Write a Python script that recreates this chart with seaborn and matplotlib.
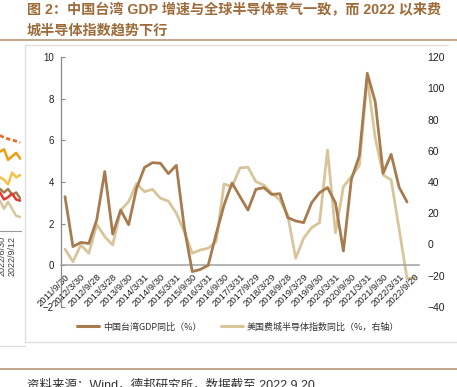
import numpy as np
import pandas as pd
import matplotlib
matplotlib.use("Agg")
import matplotlib.pyplot as plt
import matplotlib.lines as mlines
import seaborn as sns

# ============ DATA ============
dates = ["2011/9/30", "2011/12/30", "2012/3/30", "2012/6/29", "2012/9/28", "2012/12/28",
         "2013/3/28", "2013/6/28", "2013/9/30", "2013/12/31", "2014/3/31", "2014/6/30",
         "2014/9/30", "2014/12/31", "2015/3/31", "2015/6/30", "2015/9/30", "2015/12/31",
         "2016/3/31", "2016/6/30", "2016/9/30", "2016/12/30", "2017/3/31", "2017/6/30",
         "2017/9/29", "2017/12/29", "2018/3/29", "2018/6/29", "2018/9/28", "2018/12/28",
         "2019/3/29", "2019/6/28", "2019/9/30", "2019/12/31", "2020/3/31", "2020/6/30",
         "2020/9/30", "2020/12/31", "2021/3/31", "2021/6/30", "2021/9/30", "2021/12/30",
         "2022/3/31", "2022/6/30", "2022/9/20"]

# Taiwan GDP yoy (%), left axis -- ends 2022/6/30
gdp = [3.3, 0.9, 1.1, 1.05, 2.2, 4.5, 1.5, 2.65, 1.95, 3.7, 4.7, 4.93, 4.9, 4.4, 4.8,
       1.8, -0.3, -0.2, 0.0, 1.5, 2.9, 3.95, 3.3, 2.65, 3.65, 3.73, 3.4, 3.44, 2.29, 2.13,
       2.05, 3.0, 3.49, 3.73, 3.0, 0.69, 4.13, 5.25, 9.22, 7.85, 4.42, 5.33, 3.75, 3.04]

# Philadelphia semiconductor index yoy (%), right axis
sox = [-3, -11, -0.3, -5.6, 12.9, 5, -0.3, 22, 27.4, 39, 33.8, 35.3, 29.6, 27.8, 20,
       8.2, -5.6, -3.5, -2.4, 1.8, 38.7, 37, 49, 49.5, 40.2, 38, 32.8, 28.5, 18.9, -8.8,
       4, 10.8, 14, 60.5, 7.6, 37, 43.4, 50.5, 107, 68, 44.5, 41.3, 10, -22, -21]

gdp_label = "中国台湾GDP同比（%）"
sox_label = "美国费城半导体指数同比（%，右轴）"
title_1 = "图 2：中国台湾 GDP 增速与全球半导体景气一致，而 2022 以来费"
title_2 = "城半导体指数趋势下行"
source = "资料来源：Wind，德邦研究所，数据截至 2022.9.20"

# neighbouring chart cut off at the left edge (only its tail shows)
frag_x = [0, 1, 2, 3, 4, 5]
frag_dash = [82, 80, 79, 78, 77, 76]
frag_orange = [68, 70, 61, 64, 67, 62]
frag_yellow = [46, 44, 40, 50, 46, 48]
frag_brown = [36, 33, 36, 31, 33, 28]
frag_red = [33, 27, 29, 32, 27, 26]
frag_tan = [26, 19, 25, 19, 13, 12]

BROWN = "#A87B4F"
TAN = "#D9C59B"
TITLE_C = "#9E6B3A"
RULE_C = "#B8977A"

sns.set_style("white")
plt.rcParams["font.family"] = ["Liberation Sans", "Noto Sans CJK SC", "DejaVu Sans"]

fig = plt.figure(figsize=(4.57, 3.87), dpi=100)

# ============ main chart ============
ax = fig.add_axes([61 / 457, 1 - 307 / 387, (419 - 61) / 457, 250 / 387])
ax2 = ax.twinx()

df_gdp = pd.DataFrame({"idx": np.arange(len(gdp)), "v": gdp})
df_sox = pd.DataFrame({"idx": np.arange(len(sox)), "v": sox})

sns.lineplot(data=df_gdp, x="idx", y="v", ax=ax, color=BROWN, linewidth=2.0, legend=False, zorder=3)
sns.lineplot(data=df_sox, x="idx", y="v", ax=ax2, color=TAN, linewidth=2.0, legend=False, zorder=2)
ax.set_zorder(ax2.get_zorder() + 1)
ax.patch.set_visible(False)

ax.set_xlim(-0.5, len(dates) - 0.5)
ax.set_ylim(-2, 10)
ax2.set_ylim(-40, 120)
ax.set_yticks(range(-2, 11, 2))
ax2.set_yticks(range(-40, 121, 20))
ax.set_xlabel("")
ax.set_ylabel("")
ax2.set_ylabel("")

# x axis at y = 0, labels every second quarter, ticks between categories
ax.spines["bottom"].set_position(("data", 0))
ax.set_xticks(range(0, len(dates), 2))
ax.set_xticklabels(dates[::2], rotation=45, ha="right", va="top", rotation_mode="anchor",
                   fontsize=6.8, color="#222222")
ax.set_xticks(np.arange(-0.5, len(dates), 1), minor=True)
ax.tick_params(axis="x", which="major", length=0, pad=5)
ax.tick_params(axis="x", which="minor", length=3, width=0.8, color="#999999", direction="out")
ax.tick_params(axis="y", length=3, width=0.8, color="#888888", direction="in",
               labelsize=7, labelcolor="#222222", pad=5)
ax2.tick_params(axis="y", length=0, labelsize=7.5, labelcolor="#222222", pad=6)

for s in ["top", "right"]:
    ax.spines[s].set_visible(False)
for s in ["top", "right", "left", "bottom"]:
    ax2.spines[s].set_visible(False)
ax.spines["left"].set_color("#888888")
ax.spines["left"].set_linewidth(0.9)
ax.spines["bottom"].set_color("#A0A0A0")
ax.spines["bottom"].set_linewidth(1.1)

h1 = mlines.Line2D([], [], color=BROWN, linewidth=2.2)
h2 = mlines.Line2D([], [], color=TAN, linewidth=2.2)
fig.legend([h1, h2], [gdp_label, sox_label], loc="center", ncol=2,
           bbox_to_anchor=(238 / 457, 1 - 327 / 387), frameon=False,
           prop={"family": ["Noto Sans CJK SC"], "size": 6.5}, labelcolor="#333333",
           handlelength=2.4, columnspacing=2.2, handletextpad=0.4)

# ============ fragment of the chart on the left ============
axf = fig.add_axes([0, 1 - 231 / 387, 21 / 457, 105 / 387])
axf.plot(frag_x, frag_dash, color="#E8692E", linewidth=2, linestyle=(0, (1.5, 1)))
axf.plot(frag_x, frag_orange, color="#F29A12", linewidth=1.8)
axf.plot(frag_x, frag_yellow, color="#F4C04A", linewidth=1.8)
axf.plot(frag_x, frag_brown, color="#A87B4F", linewidth=1.8)
axf.plot(frag_x, frag_red, color="#E03A2C", linewidth=1.8)
axf.plot(frag_x, frag_tan, color="#D9C59B", linewidth=1.8)
axf.set_xlim(0, 5.2)
axf.set_ylim(0, 90)
axf.set_yticks([])
axf.set_xticks(np.arange(0, 5.3, 0.7))
axf.set_xticklabels([])
axf.tick_params(axis="x", length=2, color="#999999", direction="out")
for s in ["top", "right", "left"]:
    axf.spines[s].set_visible(False)
axf.spines["bottom"].set_color("#999999")
axf.patch.set_visible(False)
fig.text(12 / 457, 1 - 236 / 387, "2022/9/12", rotation=90, ha="center", va="top",
         fontsize=6.5, color="#444444")
fig.text(2 / 457, 1 - 236 / 387, "2022/6/30", rotation=90, ha="center", va="top",
         fontsize=6.5, color="#444444")

# ============ page decoration ============
fig.text(27 / 457, 1 - 10 / 387, title_1, ha="left", va="center", fontsize=10.2,
         fontweight="bold", color=TITLE_C)
fig.text(27 / 457, 1 - 31 / 387, title_2, ha="left", va="center", fontsize=10.2,
         fontweight="bold", color=TITLE_C)
fig.add_artist(mlines.Line2D([0, 1], [1 - 40 / 387] * 2, color=RULE_C, linewidth=1.2))
fig.add_artist(mlines.Line2D([25 / 457, 448 / 457], [1 - 45 / 387] * 2, color="#DDDDDD", linewidth=0.9))
fig.add_artist(mlines.Line2D([25 / 457, 25 / 457], [1 - 45 / 387, 1 - 342 / 387], color="#DDDDDD", linewidth=0.9))
fig.add_artist(mlines.Line2D([25 / 457, 1], [1 - 342 / 387] * 2, color="#DDDDDD", linewidth=0.9))
fig.add_artist(mlines.Line2D([0, 25 / 457], [1 - 346 / 387] * 2, color="#DDDDDD", linewidth=0.9))
fig.add_artist(mlines.Line2D([0, 1], [1 - 369 / 387] * 2, color=RULE_C, linewidth=1.2))
fig.text(27 / 457, 1 - 379 / 387, source, ha="left", va="top", fontsize=9, color="#333333")

fig.savefig("out.png", dpi=100)
